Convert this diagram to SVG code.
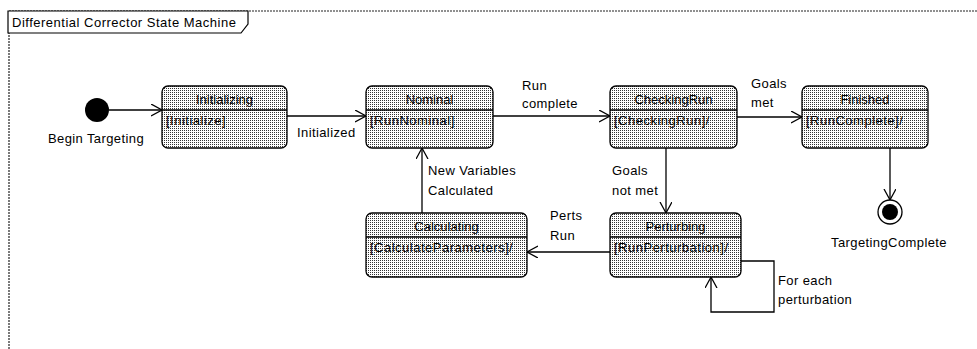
<svg xmlns="http://www.w3.org/2000/svg" width="977" height="349" viewBox="0 0 977 349">
<style>
text{font-family:"Liberation Sans",Arial,sans-serif;font-size:13px;fill:#000}
.lbl{letter-spacing:0.4px}
.nm{text-anchor:middle}
.act{letter-spacing:0.5px}
.box{fill:url(#dots);stroke:#000;stroke-width:1.3}
.div{stroke:#000;stroke-width:1.3}
.conn{fill:none;stroke:#000;stroke-width:1.3;marker-end:url(#arr)}
.frame{fill:none;stroke:#222;stroke-width:1.2;stroke-dasharray:2 1}
</style>
<defs>
<pattern id="dots" width="2" height="2" patternUnits="userSpaceOnUse">
<rect width="2" height="2" fill="#fff"/>
<rect width="1" height="1" fill="#333"/>
</pattern>
<marker id="arr" markerUnits="userSpaceOnUse" markerWidth="14" markerHeight="14" refX="11" refY="6" orient="auto" viewBox="0 0 14 14">
<path d="M0,0 L11,6 L0,12" fill="none" stroke="#000" stroke-width="1.3"/>
</marker>
</defs>
<rect width="977" height="349" fill="#fff"/>
<g id="frame">
<line class="frame" x1="9" y1="11" x2="977" y2="11"/>
<line class="frame" x1="9" y1="11" x2="9" y2="349"/>
<path d="M8,11 H248 V24 L241,33 H8 Z" fill="#fff" stroke="#000" stroke-width="1.2"/>
<text x="12" y="27" style="letter-spacing:0.5px">Differential Corrector State Machine</text>
</g>
<g id="connectors">
<line class="conn" x1="109" y1="110" x2="162" y2="110"/>
<line class="conn" x1="287" y1="116" x2="366" y2="116"/>
<line class="conn" x1="493" y1="116" x2="610" y2="116"/>
<line class="conn" x1="737" y1="117" x2="802" y2="117"/>
<line class="conn" x1="666" y1="148" x2="666" y2="213"/>
<line class="conn" x1="610" y1="252" x2="527" y2="252"/>
<line class="conn" x1="422" y1="213" x2="422" y2="148"/>
<path class="conn" d="M741,261 H774 V312 H711 V277"/>
<line class="conn" x1="890" y1="148" x2="890" y2="200"/>
<text class="lbl" x="297" y="137">Initialized</text>
<text class="lbl" x="522" y="90">Run</text>
<text class="lbl" x="522" y="108">complete</text>
<text class="lbl" x="751" y="88">Goals</text>
<text class="lbl" x="751" y="107">met</text>
<text class="lbl" x="612" y="175">Goals</text>
<text class="lbl" x="612" y="195">not met</text>
<text class="lbl" x="550" y="220">Perts</text>
<text class="lbl" x="550" y="240">Run</text>
<text class="lbl" x="428" y="175">New Variables</text>
<text class="lbl" x="428" y="195">Calculated</text>
<text class="lbl" x="778" y="285">For each</text>
<text class="lbl" x="778" y="304">perturbation</text>
</g>
<g id="begin">
<circle cx="97" cy="110" r="12" fill="#000"/>
<text class="lbl nm" x="96" y="143">Begin Targeting</text>
</g>
<g id="initializing">
<rect class="box" x="162" y="86" width="125" height="62" rx="6"/>
<line class="div" x1="162" y1="110" x2="287" y2="110"/>
<text class="nm" x="224.5" y="104">Initializing</text>
<text class="act" x="166" y="125">[Initialize]</text>
</g>
<g id="nominal">
<rect class="box" x="366" y="86" width="127" height="62" rx="6"/>
<line class="div" x1="366" y1="110" x2="493" y2="110"/>
<text class="nm" x="429.5" y="104">Nominal</text>
<text class="act" x="370" y="125">[RunNominal]</text>
</g>
<g id="checkingrun">
<rect class="box" x="610" y="86" width="127" height="62" rx="6"/>
<line class="div" x1="610" y1="110" x2="737" y2="110"/>
<text class="nm" x="673.5" y="104">CheckingRun</text>
<text class="act" x="614" y="125">[CheckingRun]/</text>
</g>
<g id="finished">
<rect class="box" x="802" y="86" width="126" height="62" rx="6"/>
<line class="div" x1="802" y1="110" x2="928" y2="110"/>
<text class="nm" x="865" y="104">Finished</text>
<text class="act" x="806" y="125">[RunComplete]/</text>
</g>
<g id="calculating">
<rect class="box" x="366" y="213" width="161" height="64" rx="6"/>
<line class="div" x1="366" y1="237" x2="527" y2="237"/>
<text class="nm" x="446.5" y="231">Calculating</text>
<text class="act" x="370" y="252">[CalculateParameters]/</text>
</g>
<g id="perturbing">
<rect class="box" x="610" y="213" width="131" height="64" rx="6"/>
<line class="div" x1="610" y1="237" x2="741" y2="237"/>
<text class="nm" x="675.5" y="231">Perturbing</text>
<text class="act" x="614" y="252">[RunPerturbation]/</text>
</g>
<g id="targetingcomplete">
<circle cx="890" cy="212" r="12" fill="#fff" stroke="#000" stroke-width="1.3"/>
<circle cx="890" cy="212" r="8" fill="#000"/>
<text class="lbl nm" x="889" y="247">TargetingComplete</text>
</g>
</svg>
